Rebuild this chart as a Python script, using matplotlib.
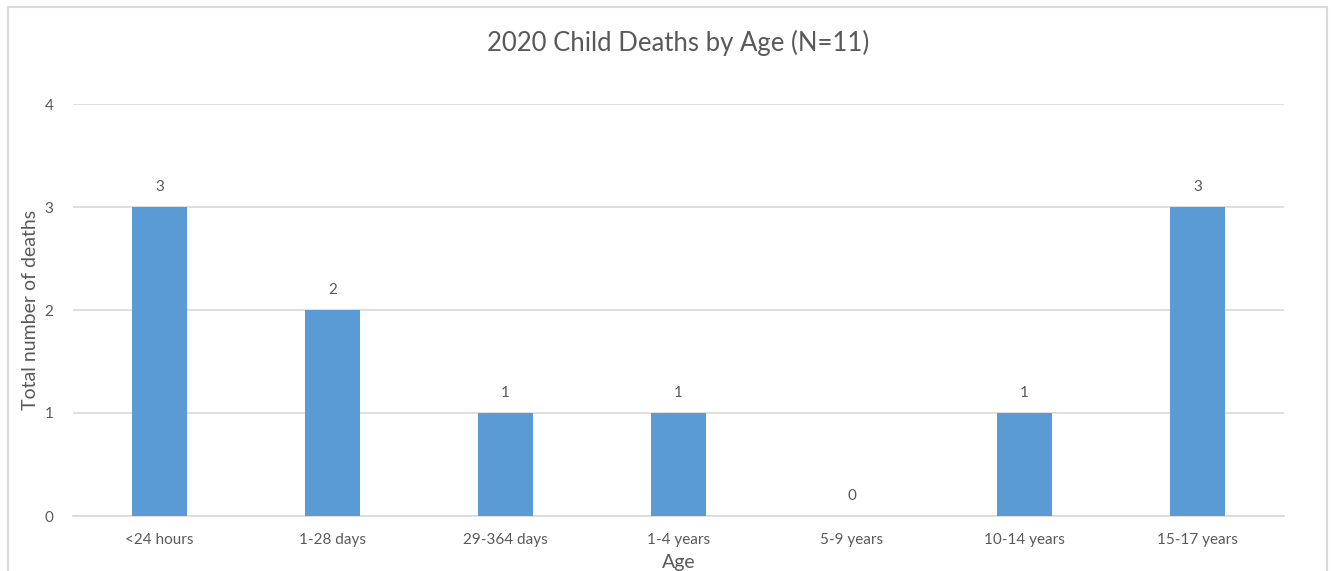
import matplotlib.pyplot as plt
from matplotlib.patches import Rectangle

plt.rcParams['font.family'] = ['Lato', 'DejaVu Sans']

categories = ["<24 hours", "1-28 days", "29-364 days", "1-4 years", "5-9 years", "10-14 years", "15-17 years"]
deaths = [3, 2, 1, 1, 0, 1, 3]
yticks = [0, 1, 2, 3, 4]

BAR = "#5B9BD5"
TXT = "#595959"
GRID = "#D9D9D9"

fig = plt.figure(figsize=(13.32, 5.71), dpi=100)
# outer chart border
fig.patches.append(Rectangle((8 / 1332, -0.05), 1319 / 1332, 1 - 7 / 571 + 0.05,
                             transform=fig.transFigure, fill=False,
                             edgecolor=GRID, linewidth=1.5))

ax = fig.add_axes([73 / 1332, 55 / 571, 1211 / 1332, 412 / 571])
x = range(len(categories))
ax.bar(x, deaths, width=0.32, color=BAR, zorder=3)

for i, v in enumerate(deaths):
    ax.annotate(str(v), (i, v), xytext=(0, 14.5), textcoords="offset points",
                ha="center", va="center", fontsize=11, color=TXT)

ax.set_xlim(-0.5, len(categories) - 0.5)
ax.set_ylim(0, 4)
ax.set_yticks(yticks)
ax.set_xticks(list(x))
ax.set_xticklabels(categories)
ax.grid(axis="y", color=GRID, linewidth=1.2, zorder=0)
for s in ["top", "right", "left"]:
    ax.spines[s].set_visible(False)
ax.spines["bottom"].set_color(GRID)
ax.spines["bottom"].set_linewidth(1.2)
ax.tick_params(axis="both", length=0, labelsize=11, labelcolor=TXT)
ax.tick_params(axis="x", pad=12)
ax.tick_params(axis="y", pad=14)

ax.set_title("2020 Child Deaths by Age (N=11)", fontsize=18.5, color=TXT, pad=38)
ax.set_ylabel("Total number of deaths", fontsize=14, color=TXT, labelpad=4)
ax.set_xlabel("Age", fontsize=14, color=TXT, labelpad=5)

fig.savefig("out.png", dpi=100)
